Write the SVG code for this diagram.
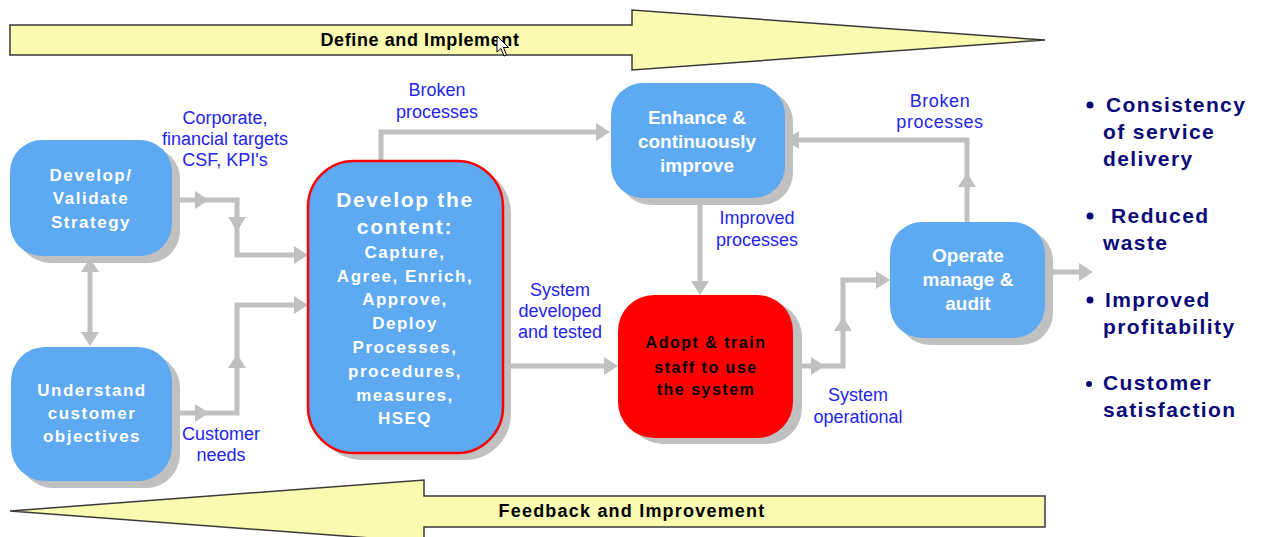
<svg xmlns="http://www.w3.org/2000/svg" xmlns:xlink="http://www.w3.org/1999/xlink" width="1265" height="537" viewBox="0 0 1265 537">
  <defs>
    <style>
      .band { fill: #FAFAB0; stroke: #3a3a3a; stroke-width: 1.5; }
      .band-text { font-family: "Liberation Sans", Arial, sans-serif; font-weight: bold; font-size: 18px; fill: #000; text-anchor: middle; }
      .shadow { fill: #C0C0C0; }
      .node { fill: #5DA9F2; }
      .node-red-border { fill: #5DA9F2; stroke: #FF0000; stroke-width: 2.5; }
      .node-red { fill: #FF0000; }
      .ntext { font-family: "Liberation Sans", Arial, sans-serif; font-weight: bold; fill: #FFFFFF; text-anchor: middle; }
      .spaced { font-size: 17px; letter-spacing: 1.5px; }
      .plain { font-size: 19px; }
      .dark { fill: #000000; font-size: 16px; letter-spacing: 1.5px; }
      .label { font-family: "Liberation Sans", Arial, sans-serif; font-size: 18px; fill: #2424EE; text-anchor: middle; }
      .wire { fill: none; stroke: #C0C0C0; stroke-width: 5; }
      .head { fill: #C0C0C0; }
      .bullet { font-family: "Liberation Sans", Arial, sans-serif; font-weight: bold; font-size: 21px; fill: #0A0A78; letter-spacing: 1.4px; }
    </style>
    <path id="ah" d="M-14,-9 L0,0 L-14,9 Z"/>
  </defs>

  <rect width="1265" height="537" fill="#FFFFFF"/>

  <!-- Forward band -->
  <g id="define-implement">
    <path class="band" d="M10,25 L632,25 L632,10 L1045,40 L632,70 L632,55 L10,55 Z"/>
    <text class="band-text" x="420" y="46" letter-spacing="0.6">Define and Implement</text>
  </g>

  <!-- Return band -->
  <g id="feedback-improvement">
    <path class="band" d="M1045,496 L424,496 L424,480 L10,511 L424,542 L424,527 L1045,527 Z"/>
    <text class="band-text" x="632" y="517" letter-spacing="1.2">Feedback and Improvement</text>
  </g>

  <!-- Connectors -->
  <g id="connectors">
    <!-- strategy <-> customer objectives -->
    <path class="wire" d="M90,262 L90,340"/>
    <use href="#ah" class="head" transform="translate(90,258) rotate(-90)"/>
    <use href="#ah" class="head" transform="translate(90,346) rotate(90)"/>

    <!-- strategy -> content -->
    <path class="wire" d="M172,200 L237,200 L237,255 L300,255"/>
    <use href="#ah" class="head" transform="translate(209,200)"/>
    <use href="#ah" class="head" transform="translate(237,231) rotate(90)"/>
    <use href="#ah" class="head" transform="translate(308,255)"/>

    <!-- customer objectives -> content -->
    <path class="wire" d="M172,413 L237,413 L237,305 L300,305"/>
    <use href="#ah" class="head" transform="translate(209,413)"/>
    <use href="#ah" class="head" transform="translate(237,354) rotate(-90)"/>
    <use href="#ah" class="head" transform="translate(308,305)"/>

    <!-- content -> enhance (broken processes) -->
    <path class="wire" d="M381,160 L381,132 L602,132"/>
    <use href="#ah" class="head" transform="translate(610,132)"/>

    <!-- content -> adopt -->
    <path class="wire" d="M503,366 L610,366"/>
    <use href="#ah" class="head" transform="translate(618,366)"/>

    <!-- enhance -> adopt -->
    <path class="wire" d="M700,198 L700,288"/>
    <use href="#ah" class="head" transform="translate(700,295) rotate(90)"/>

    <!-- adopt -> operate -->
    <path class="wire" d="M793,366 L843,366 L843,280 L882,280"/>
    <use href="#ah" class="head" transform="translate(825,366)"/>
    <use href="#ah" class="head" transform="translate(843,317) rotate(-90)"/>
    <use href="#ah" class="head" transform="translate(890,280)"/>

    <!-- operate -> enhance (broken processes) -->
    <path class="wire" d="M967,222 L967,140 L793,140"/>
    <use href="#ah" class="head" transform="translate(967,173) rotate(-90)"/>
    <use href="#ah" class="head" transform="translate(785,140) rotate(180)"/>

    <!-- operate -> outcomes -->
    <path class="wire" d="M1045,272 L1085,272"/>
    <use href="#ah" class="head" transform="translate(1093,272)"/>
  </g>

  <!-- Connector labels -->
  <g id="labels">
    <text class="label" x="225" y="124">Corporate,</text>
    <text class="label" x="225" y="145">financial targets</text>
    <text class="label" x="225" y="166">CSF, KPI's</text>
    <text class="label" x="221" y="440">Customer</text>
    <text class="label" x="221" y="461">needs</text>
    <text class="label" x="437" y="96">Broken</text>
    <text class="label" x="437" y="118">processes</text>
    <text class="label" x="560" y="296">System</text>
    <text class="label" x="560" y="317">developed</text>
    <text class="label" x="560" y="338">and tested</text>
    <text class="label" x="757" y="224">Improved</text>
    <text class="label" x="757" y="246">processes</text>
    <text class="label" x="858" y="401">System</text>
    <text class="label" x="858" y="423">operational</text>
    <text class="label" x="940" y="107" letter-spacing="0.6">Broken</text>
    <text class="label" x="940" y="128" letter-spacing="0.6">processes</text>
  </g>

  <!-- Nodes -->
  <g id="node-strategy">
    <rect class="shadow" x="18" y="147" width="162" height="116" rx="32"/>
    <rect class="node" x="10" y="140" width="162" height="116" rx="32"/>
    <text class="ntext spaced" x="91" y="181">Develop/</text>
    <text class="ntext spaced" x="91" y="204">Validate</text>
    <text class="ntext spaced" x="91" y="228">Strategy</text>
  </g>

  <g id="node-customer">
    <rect class="shadow" x="19" y="354" width="161" height="134" rx="34"/>
    <rect class="node" x="11" y="347" width="161" height="134" rx="34"/>
    <text class="ntext spaced" x="92" y="396" letter-spacing="1.6">Understand</text>
    <text class="ntext spaced" x="92" y="419" letter-spacing="1.6">customer</text>
    <text class="ntext spaced" x="92" y="442" letter-spacing="1.6">objectives</text>
  </g>

  <g id="node-content">
    <rect class="shadow" x="316" y="167" width="195" height="293" rx="46"/>
    <rect class="node-red-border" x="308" y="161" width="195" height="292" rx="46"/>
    <text class="ntext" x="405" y="207" font-size="21" letter-spacing="1.7">Develop the</text>
    <text class="ntext" x="405" y="234" font-size="21" letter-spacing="1.7">content:</text>
    <text class="ntext spaced" x="405" y="258">Capture,</text>
    <text class="ntext spaced" x="405" y="282" letter-spacing="1.3">Agree, Enrich,</text>
    <text class="ntext spaced" x="405" y="305">Approve,</text>
    <text class="ntext spaced" x="405" y="329">Deploy</text>
    <text class="ntext spaced" x="405" y="353">Processes,</text>
    <text class="ntext spaced" x="405" y="377">procedures,</text>
    <text class="ntext spaced" x="405" y="401">measures,</text>
    <text class="ntext spaced" x="405" y="424">HSEQ</text>
  </g>

  <g id="node-enhance">
    <rect class="shadow" x="619" y="90" width="174" height="115" rx="32"/>
    <rect class="node" x="611" y="83" width="174" height="115" rx="32"/>
    <text class="ntext plain" x="697" y="124">Enhance &amp;</text>
    <text class="ntext plain" x="697" y="148">continuously</text>
    <text class="ntext plain" x="697" y="172">improve</text>
  </g>

  <g id="node-adopt">
    <rect class="shadow" x="627" y="301" width="175" height="143" rx="36"/>
    <rect class="node-red" x="618" y="295" width="175" height="143" rx="36"/>
    <text class="ntext dark" x="706" y="348">Adopt &amp; train</text>
    <text class="ntext dark" x="706" y="373">staff to use</text>
    <text class="ntext dark" x="706" y="395">the system</text>
  </g>

  <g id="node-operate">
    <rect class="shadow" x="898" y="229" width="155" height="116" rx="32"/>
    <rect class="node" x="890" y="222" width="155" height="116" rx="32"/>
    <text class="ntext plain" x="968" y="262">Operate</text>
    <text class="ntext plain" x="968" y="286">manage &amp;</text>
    <text class="ntext plain" x="968" y="310">audit</text>
  </g>

  <!-- Outcomes list -->
  <g id="outcomes">
    <circle cx="1090" cy="105" r="3.5" fill="#0A0A78"/>
    <text class="bullet" x="1106" y="112">Consistency</text>
    <text class="bullet" x="1103" y="139">of service</text>
    <text class="bullet" x="1103" y="166">delivery</text>
    <circle cx="1090" cy="216" r="3.5" fill="#0A0A78"/>
    <text class="bullet" x="1111" y="223">Reduced</text>
    <text class="bullet" x="1103" y="250">waste</text>
    <circle cx="1090" cy="300" r="3.5" fill="#0A0A78"/>
    <text class="bullet" x="1105" y="307">Improved</text>
    <text class="bullet" x="1103" y="334">profitability</text>
    <circle cx="1089" cy="384" r="3" fill="#0A0A78"/>
    <text class="bullet" x="1103" y="390">Customer</text>
    <text class="bullet" x="1103" y="417">satisfaction</text>
  </g>

  <!-- Pointer -->
  <path d="M497,36 L497,52 L501,48.5 L504,56 L506.5,55 L503.5,47.5 L508.5,47.5 Z" fill="#FFFFFF" stroke="#000000" stroke-width="1"/>
</svg>
